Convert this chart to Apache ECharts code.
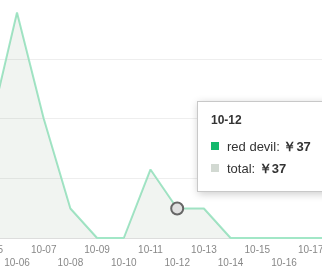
<!DOCTYPE html>
<html><head><meta charset="utf-8">
<style>html,body{margin:0;padding:0;overflow:hidden;background:#fff}#c{width:322px;height:279px}</style>
<script src="https://cdn.jsdelivr.net/npm/echarts@6/dist/echarts.min.js"></script>
</head><body><div id="c"></div>
<script>
const categories = ['10-05','10-06','10-07','10-08','10-09','10-10','10-11','10-12','10-13','10-14','10-15','10-16','10-17','10-18'];
const redDevil = [140,283,150,37,0,0,86,37,37,0,0,0,0,0];
const total = [140,283,150,37,0,0,86,37,37,0,0,0,0,0];
const seriesNames = ['red devil','total'];
const markerColors = ['#13b86c','#d2d9d2'];

const chart = echarts.init(document.getElementById('c'));
chart.setOption({
  animation:false,
  grid:{left:-9.7,right:-15.4,top:-1,bottom:41,outerBoundsMode:'none',containLabel:false},
  tooltip:{
    trigger:'axis',
    alwaysShowContent:true,
    position:[197,101],
    padding:0,
    borderWidth:0,
    backgroundColor:'transparent',
    extraCssText:'box-shadow:none;',
    axisPointer:{type:'none'},
    formatter:function(params){
      let h='<div style="width:150px;background:#fff;border:1px solid #c8c8c8;box-shadow:1px 2px 8px rgba(0,0,0,0.2);padding:8px 14px 11px 13px;font-family:\'Liberation Sans\',Arial,sans-serif;color:#333;">';
      h+='<div style="font-size:12px;font-weight:bold;line-height:20px;margin-bottom:6px;">'+params[0].axisValue+'</div>';
      params.forEach(function(p,i){
        h+='<div style="font-size:13px;line-height:22px;white-space:nowrap;"><span style="display:inline-block;width:8px;height:8px;background:'+markerColors[i]+';margin-right:8px;vertical-align:1px;"></span>'+p.seriesName+':&nbsp;<span style="font-weight:bold;">￥'+p.value+'</span></div>';
      });
      h+='</div>';
      return h;
    }
  },
  xAxis:{
    type:'category',
    data:categories,
    boundaryGap:false,
    axisLine:{lineStyle:{color:'#dddddd'}},
    axisTick:{show:false},
    axisLabel:{
      color:'#888888',fontSize:10,lineHeight:13,margin:6,interval:0,
      fontFamily:'Liberation Sans, Arial, sans-serif',
      formatter:function(v,i){return i%2===0? v : '\n'+v;}
    },
    splitLine:{show:false}
  },
  yAxis:{
    type:'value',min:0,max:300,interval:75,
    axisLabel:{show:false},axisLine:{show:false},axisTick:{show:false},
    splitLine:{lineStyle:{color:'#eeeeee'}}
  },
  series:[
    {name:seriesNames[0],type:'line',data:redDevil,symbol:'none',
      lineStyle:{color:'#94d2b5',width:2},itemStyle:{color:markerColors[0]},z:3},
    {name:seriesNames[1],type:'line',data:total,showSymbol:false,symbol:'circle',symbolSize:12,
      lineStyle:{width:1,opacity:0},itemStyle:{color:'#e0e0e0',borderColor:'#666666',borderWidth:2,opacity:1},
      areaStyle:{color:'#7f9f7f',opacity:0.11},
      emphasis:{scale:false,areaStyle:{color:'#7f9f7f',opacity:0.11},itemStyle:{color:'#e0e0e0',borderColor:'#666666',borderWidth:2,opacity:1}},z:4}
  ]
});
chart.dispatchAction({type:'showTip',seriesIndex:1,dataIndex:7});
</script></body></html>
